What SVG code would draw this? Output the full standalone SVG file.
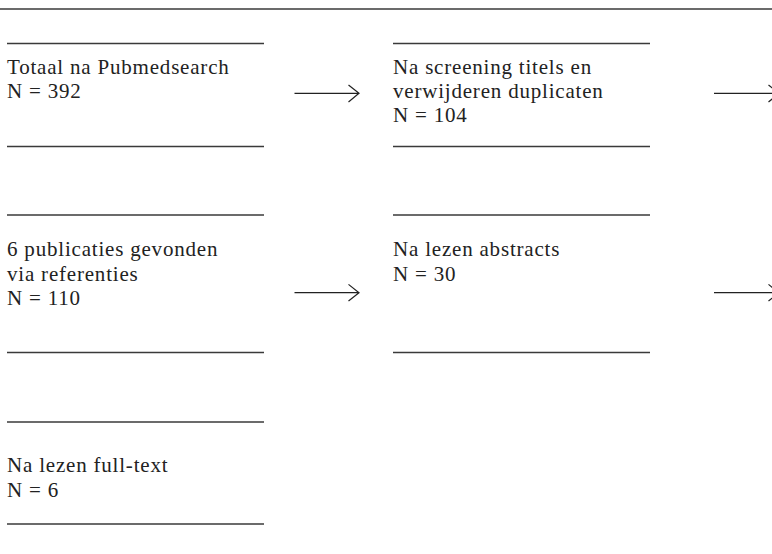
<svg xmlns="http://www.w3.org/2000/svg" width="772" height="554" viewBox="0 0 772 554">
<style>
.rule{stroke:#3a3a3a;stroke-width:1.3;fill:none}
.conn{stroke:#222;stroke-width:1.2;fill:none}
.t{font-family:"Liberation Serif","Times New Roman",serif;font-size:21px;letter-spacing:0.8px;fill:#222}
</style>
<rect width="772" height="554" fill="#fff"/>
<line class="rule" x1="0" y1="9" x2="772" y2="9"/>
<g id="n1">
<line class="rule" x1="7" y1="43.5" x2="264" y2="43.5"/>
<line class="rule" x1="7" y1="146.5" x2="264" y2="146.5"/>
<text class="t" x="7" y="73.5">Totaal na Pubmedsearch</text>
<text class="t" x="7" y="98">N = 392</text>
</g>
<g id="n2">
<line class="rule" x1="393" y1="43.5" x2="650" y2="43.5"/>
<line class="rule" x1="393" y1="146.5" x2="650" y2="146.5"/>
<text class="t" x="393" y="73.5">Na screening titels en</text>
<text class="t" x="393" y="97.5">verwijderen duplicaten</text>
<text class="t" x="393" y="121.5">N = 104</text>
</g>
<g id="n3">
<line class="rule" x1="7" y1="215" x2="264" y2="215"/>
<line class="rule" x1="7" y1="352.5" x2="264" y2="352.5"/>
<text class="t" x="7" y="256">6 publicaties gevonden</text>
<text class="t" x="7" y="280.5">via referenties</text>
<text class="t" x="7" y="305">N = 110</text>
</g>
<g id="n4">
<line class="rule" x1="393" y1="215" x2="650" y2="215"/>
<line class="rule" x1="393" y1="352.5" x2="650" y2="352.5"/>
<text class="t" x="393" y="256">Na lezen abstracts</text>
<text class="t" x="393" y="281">N = 30</text>
</g>
<g id="n5">
<line class="rule" x1="7" y1="422" x2="264" y2="422"/>
<line class="rule" x1="7" y1="524" x2="264" y2="524"/>
<text class="t" x="7" y="471.5">Na lezen full-text</text>
<text class="t" x="7" y="497">N = 6</text>
</g>
<g id="connectors">
<path class="conn" d="M294.5 93.3H359M348.5 85L359 93.3L348.5 102"/>
<path class="conn" d="M714 93.3H779M768.5 85L779 93.3L768.5 102"/>
<path class="conn" d="M294.5 292.7H359M348.5 284.4L359 292.7L348.5 301"/>
<path class="conn" d="M714 292.7H779M768.5 284.4L779 292.7L768.5 301"/>
</g>
</svg>
